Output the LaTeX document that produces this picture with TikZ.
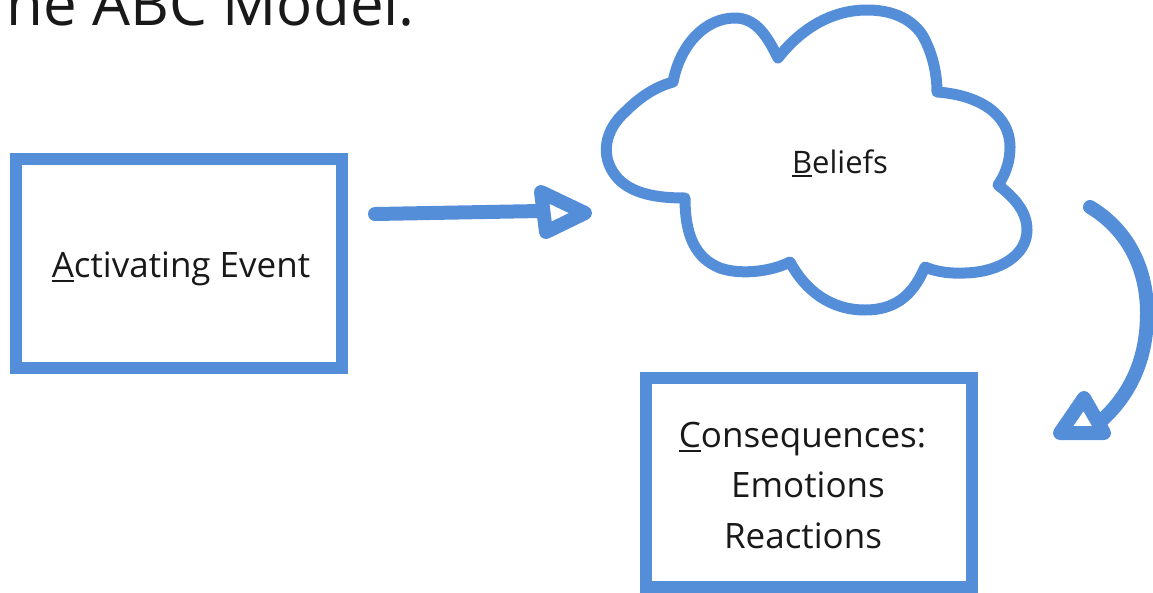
\documentclass[tikz,border=0pt]{standalone}
\usepackage{fontspec}
\setmainfont{Open Sans}
\definecolor{abcblue}{HTML}{548DD8}
\newcommand{\myul}[2]{\setbox0\hbox{#1}\rlap{\rule[#2]{\wd0}{2.4pt}}\box0}
\begin{document}
\begin{tikzpicture}[x=1pt,y=-1pt,
  box/.style={draw=abcblue, line width=12pt, minimum width=326pt, minimum height=209pt, inner sep=0pt},
  lbl/.style={anchor=base, inner sep=0pt, font=\fontsize{35}{42}\selectfont, text=black!90},
  arr/.style={draw=abcblue, line width=14pt, line cap=round, line join=round},
  cloudline/.style={draw=abcblue, line width=11pt, line join=round, line cap=round}]
\clip (0,0) rectangle (1153,592);
\useasboundingbox (0,0) rectangle (1153,592);

% title (cut off at the left edge)
\node[anchor=base east, inner sep=0pt, font=\fontsize{60}{72}\selectfont, text=black!90] (title) at (415,25) {The ABC Model.};

% boxes
\node[box] (act) at (178.5,263) {};
\node[lbl] (actText) at (181,277) {\myul{A}{-5pt}ctivating Event};

\node[box] (cons) at (808.5,482) {};
\node[lbl] (consText1) at (802.5,447) {\myul{C}{-5pt}onsequences:};
\node[lbl] (consText2) at (808,497) {Emotions};
\node[lbl] (consText3) at (803,548) {Reactions};

% cloud
\draw[cloudline] (673,82)
  .. controls (680,45) and (705,18) .. (735,18)
  .. controls (757,18) and (768,38) .. (778,58)
  .. controls (800,30) and (830,10) .. (867,10)
  .. controls (900,10) and (918,25) .. (925,40)
  .. controls (935,60) and (937,80) .. (937,92)
  .. controls (980,95) and (1010,115) .. (1010,147)
  .. controls (1010,165) and (1003,178) .. (998,185)
  .. controls (1015,198) and (1027,212) .. (1027,230)
  .. controls (1027,255) and (1000,272) .. (965,273)
  .. controls (945,274) and (932,270) .. (925,267)
  .. controls (915,290) and (900,310) .. (865,310)
  .. controls (830,310) and (805,290) .. (790,262)
  .. controls (770,272) and (740,275) .. (720,268)
  .. controls (695,258) and (685,235) .. (685,198)
  .. controls (660,198) and (630,195) .. (615,175)
  .. controls (600,155) and (605,130) .. (625,112)
  .. controls (640,97) and (655,87) .. cycle;
\node[lbl, font=\fontsize{31}{37}\selectfont] (beliefs) at (840,173) {\myul{B}{-4pt}eliefs};

% arrow A -> B
\coordinate (a1s) at (375,214);
\coordinate (a1e) at (541,211);
\coordinate (h1a) at (541,192);
\coordinate (h1b) at (546,232);
\coordinate (h1c) at (585,213);
\draw[arr] (a1s) -- (a1e);
\draw[arr] (h1a) -- (h1b) -- (h1c) -- cycle;

% arrow B -> C
\coordinate (a2s) at (1090,207);
\coordinate (a2m) at (1147,313);
\coordinate (a2e) at (1100,422);
\coordinate (h2a) at (1084,398);
\coordinate (h2b) at (1060,433);
\coordinate (h2c) at (1104,433);
\draw[arr] (a2s) .. controls (1125,228) and (1147,265) .. (a2m)
  .. controls (1147,360) and (1130,395) .. (a2e);
\draw[arr] (h2a) -- (h2b) -- (h2c) -- cycle;
\end{tikzpicture}
\end{document}
